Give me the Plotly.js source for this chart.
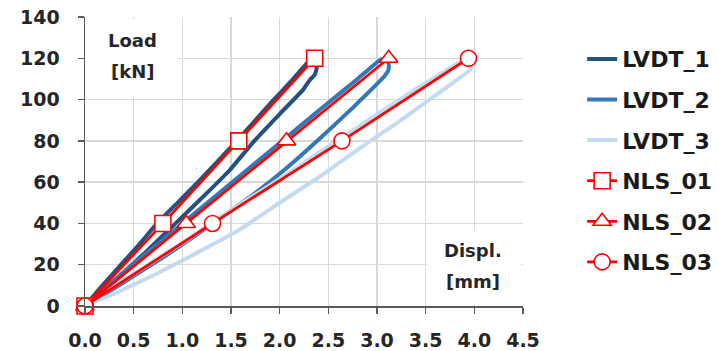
<!DOCTYPE html>
<html>
<head>
<meta charset="utf-8">
<script src="https://cdn.plot.ly/plotly-3.0.1.min.js"></script>
<style>html,body{margin:0;padding:0;background:#fff;}#chart{width:718px;height:351px;}</style>
</head>
<body>
<div id="chart"></div>
<script>
// ---- Data ----
const seriesNames = ["LVDT_1", "LVDT_2", "LVDT_3", "NLS_01", "NLS_02", "NLS_03"];

// LVDT loops: loading path out to the tip, then return path back to origin
const lvdt1X = [0, 0.18, 0.37, 0.56, 0.74, 0.95, 1.16, 1.36, 1.56, 1.75, 1.94, 2.12, 2.28, 2.33, 2.37, 2.38, 2.36, 2.31, 2.24, 2.00, 1.74, 1.49, 1.28, 0.93, 0.62, 0.30, 0];
const lvdt1Y = [0, 10, 20, 30, 40, 50, 60, 70, 80, 90, 100, 109, 117.5, 118.5, 117.5, 115, 112, 109.5, 104.7, 93, 80, 66, 56, 40, 26, 12, 0];

const lvdt2X = [0, 0.25, 0.5, 0.75, 1.0, 1.5, 2.0, 2.5, 2.8, 3.04, 3.09, 3.12, 3.12, 3.08, 2.75, 2.41, 2.05, 1.70, 1.40, 1.10, 0.80, 0.40, 0];
const lvdt2Y = [0, 10.5, 20.5, 30, 40, 59.5, 79, 98.5, 110, 119.5, 119.5, 117.5, 114.5, 111.5, 96, 81, 66, 53, 43, 33, 23.5, 11.5, 0];

const lvdt3X = [0, 0.30, 0.65, 1.0, 1.31, 1.65, 2.0, 2.41, 2.8, 3.2, 3.55, 3.88, 3.94, 3.97, 3.96, 3.6, 3.2, 2.84, 2.41, 2.0, 1.59, 1.30, 1.0, 0.7, 0.35, 0];
const lvdt3Y = [0, 9.5, 20, 30.5, 40.5, 51, 61.5, 74.5, 86.5, 99, 109.5, 119, 118.5, 116.5, 114.5, 102, 88.5, 77, 62.6, 50, 37, 29.5, 22, 14.8, 7, 0];

// Numerical (NLS) results
const nlsLoad = [0, 40, 80, 120];
const nls01X = [0, 0.80, 1.58, 2.36];
const nls02X = [0, 1.04, 2.07, 3.12];
const nls03X = [0, 1.31, 2.64, 3.94];

// Axis ticks
const xTicks = [0, 0.5, 1.0, 1.5, 2.0, 2.5, 3.0, 3.5, 4.0, 4.5];
const yTicks = [0, 20, 40, 60, 80, 100, 120, 140];

// ---- Styling ----
const FONT = "DejaVu Sans, sans-serif";
const RED = "#FF0000";

function lvdtTrace(name, x, y, color, group) {
  return {
    type: "scatter", mode: "lines", name: name, x: x, y: y,
    legendgroup: group,
    line: {color: color, width: 4, shape: "spline", smoothing: 0.3},
    hoverinfo: "skip"
  };
}
function nlsTrace(name, x, y, symbol, group) {
  return {
    type: "scatter", mode: "lines+markers", name: name, x: x, y: y,
    legendgroup: group, cliponaxis: false,
    line: {color: RED, width: 2.8},
    marker: {symbol: symbol, size: 16, color: "#FFFFFF", line: {color: RED, width: 1.6}},
    hoverinfo: "skip"
  };
}

const data = [
  lvdtTrace(seriesNames[0], lvdt1X, lvdt1Y, "#23527F", "g1"),
  lvdtTrace(seriesNames[1], lvdt2X, lvdt2Y, "#3478BA", "g2"),
  lvdtTrace(seriesNames[2], lvdt3X, lvdt3Y, "#C3DBF1", "g3"),
  nlsTrace(seriesNames[3], nls01X, nlsLoad, "square", "g4"),
  nlsTrace(seriesNames[4], nls02X, nlsLoad, "triangle-up", "g5"),
  nlsTrace(seriesNames[5], nls03X, nlsLoad, "circle", "g6")
];

const tickFont = {family: FONT, size: 19, color: "#262626", weight: "bold"};
const labelFont = {family: FONT, size: 18, color: "#262626", weight: "bold"};

const layout = {
  width: 718, height: 351,
  margin: {l: 85, r: 195, t: 17, b: 45, pad: 0, autoexpand: false},
  paper_bgcolor: "#FFFFFF", plot_bgcolor: "#FFFFFF",
  showlegend: true,
  xaxis: {
    range: [0, 4.5], tickvals: xTicks, tickformat: ".1f",
    showgrid: true, gridcolor: "#D9D9D9", gridwidth: 1.5,
    zeroline: false, showline: true, linecolor: "#595959", linewidth: 1.5,
    ticks: "outside", ticklen: 6, tickcolor: "#595959", tickwidth: 1.5,
    ticklabelstandoff: 11, tickfont: tickFont, fixedrange: true, automargin: false
  },
  yaxis: {
    range: [0, 140], tickvals: yTicks,
    showgrid: true, gridcolor: "#D9D9D9", gridwidth: 1.5,
    zeroline: false, showline: true, linecolor: "#595959", linewidth: 1.5,
    ticks: "outside", ticklen: 6, tickcolor: "#595959", tickwidth: 1.5,
    ticklabelstandoff: 14, tickfont: tickFont, fixedrange: true, automargin: false
  },
  legend: {
    x: 1.135, xanchor: "left", y: 0.927, yanchor: "top",
    font: {family: FONT, size: 22, color: "#1A1A1A", weight: "bold"},
    tracegroupgap: 9, bgcolor: "rgba(0,0,0,0)", borderwidth: 0
  },
  shapes: [
    {type: "rect", xref: "x", yref: "y", x0: 0.01, x1: 0.955, y0: 101.3, y1: 139, layer: "between",
     fillcolor: "#FFFFFF", line: {width: 0}},
    {type: "rect", xref: "x", yref: "y", x0: 3.51, x1: 4.48, y0: 0.5, y1: 36.8, layer: "between",
     fillcolor: "#FFFFFF", line: {width: 0}}
  ],
  annotations: [
    {text: "Load", x: 0.49, y: 128.4, xref: "x", yref: "y", showarrow: false, font: labelFont},
    {text: "[kN]", x: 0.49, y: 113.4, xref: "x", yref: "y", showarrow: false, font: labelFont},
    {text: "Displ.", x: 3.99, y: 27.1, xref: "x", yref: "y", showarrow: false, font: labelFont},
    {text: "[mm]", x: 3.99, y: 12.1, xref: "x", yref: "y", showarrow: false, font: labelFont}
  ]
};

Plotly.newPlot("chart", data, layout, {displayModeBar: false, staticPlot: true});
</script>
</body>
</html>
